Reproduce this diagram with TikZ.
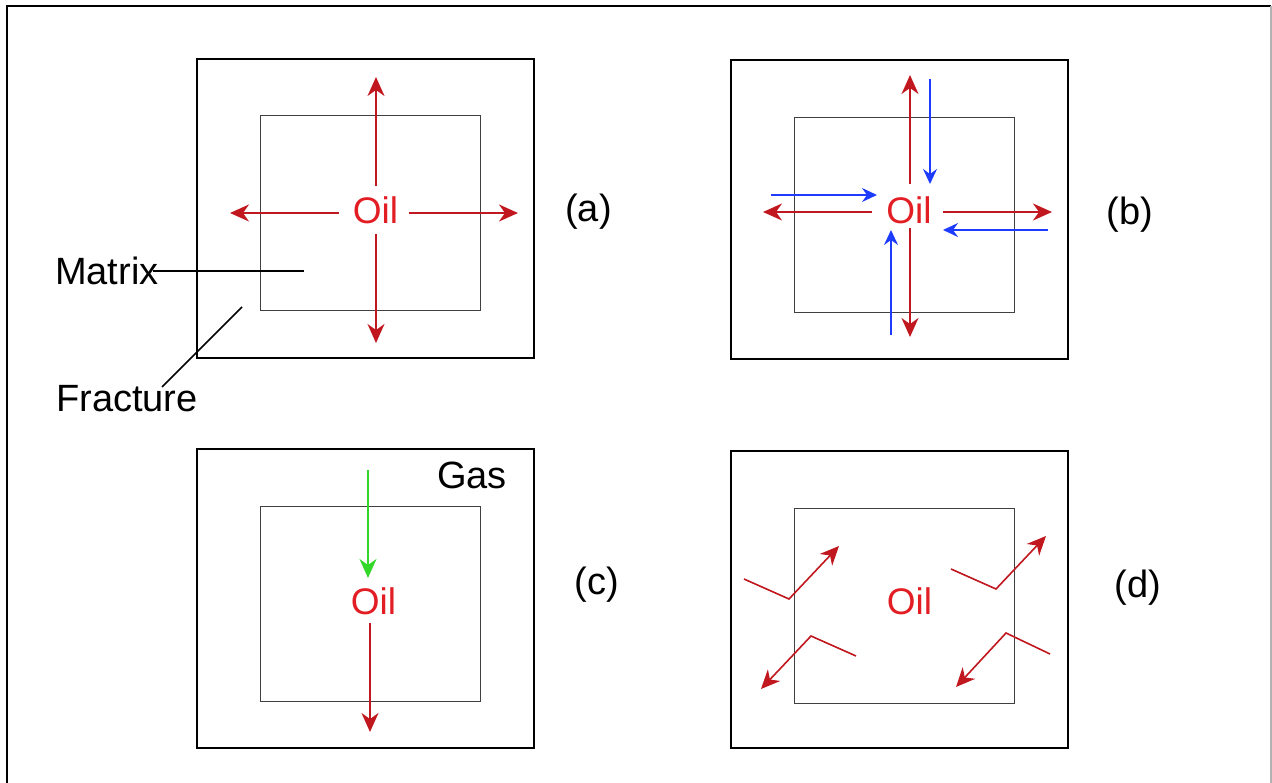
\documentclass[tikz,border=0pt]{standalone}
\usepackage{fontspec}
\setmainfont{Liberation Sans}
\usetikzlibrary{arrows.meta}
\definecolor{arrowred}{RGB}{192,24,30}
\definecolor{oilred}{RGB}{226,30,36}
\definecolor{flowblue}{RGB}{30,60,255}
\definecolor{gasgreen}{RGB}{50,215,40}
\tikzset{
  outerbox/.style={draw=black,line width=2pt},
  innerbox/.style={draw=black!75,line width=1pt},
  redarr/.style={draw=arrowred,line width=1.6pt,-{Stealth[length=19pt,width=17pt,inset=6pt]}},
  bluearr/.style={draw=flowblue,line width=1.6pt,-{Stealth[length=15pt,width=14pt,inset=5pt]}},
  greenarr/.style={draw=gasgreen,line width=1.6pt,-{Stealth[length=19pt,width=17pt,inset=6pt]}},
  oiltext/.style={text=oilred,font=\fontsize{37}{41}\selectfont,inner sep=0pt,anchor=base},
  blacktext/.style={text=black,font=\fontsize{38}{42}\selectfont,inner sep=0pt},
  leader/.style={draw=black,line width=1.5pt}
}
\begin{document}
\begin{tikzpicture}[x=1pt,y=-1pt]
\useasboundingbox (0,0) rectangle (1272,783);
% page frame
\draw[line width=1.5pt] (7,783) -- (7,6) -- (1271,6);
\draw[line width=1.5pt,black!30] (1271,6) -- (1271,783);

% ---------- panel (a)
\draw[outerbox] (197,59) rectangle (534,358);
\draw[innerbox] (260,116) rectangle (480,311);
\node[oiltext] (oilA) at (375.5,224) {Oil};
\coordinate (aUs) at (376,186); \coordinate (aUe) at (376,77);
\coordinate (aDs) at (376,234); \coordinate (aDe) at (376,343);
\coordinate (aLs) at (339,213); \coordinate (aLe) at (230,213);
\coordinate (aRs) at (409,213); \coordinate (aRe) at (518,213);
\draw[redarr] (aUs) -- (aUe);
\draw[redarr] (aDs) -- (aDe);
\draw[redarr] (aLs) -- (aLe);
\draw[redarr] (aRs) -- (aRe);
\node[blacktext,anchor=base] (labA) at (588.5,222) {(a)};
\node[blacktext,anchor=base west] (matrix) at (55,285) {Matrix};
\node[blacktext,anchor=base west] (fracture) at (56,412) {Fracture};
\coordinate (mEnd) at (304,271); \coordinate (mStart) at (153,271);
\coordinate (fEnd) at (242,307); \coordinate (fStart) at (162,387);
\draw[leader] (mStart) -- (mEnd);
\draw[leader] (fStart) -- (fEnd);

% ---------- panel (b)
\draw[outerbox] (731,60) rectangle (1068,359);
\draw[innerbox] (794,118) rectangle (1014,313);
\node[oiltext] (oilB) at (909,224) {Oil};
\coordinate (bUs) at (910,184); \coordinate (bUe) at (910,75);
\coordinate (bDs) at (910,228); \coordinate (bDe) at (910,337);
\coordinate (bLs) at (872,212); \coordinate (bLe) at (763,212);
\coordinate (bRs) at (943,212); \coordinate (bRe) at (1052,212);
\draw[redarr] (bUs) -- (bUe);
\draw[redarr] (bDs) -- (bDe);
\draw[redarr] (bLs) -- (bLe);
\draw[redarr] (bRs) -- (bRe);
\coordinate (bTs) at (930,79);  \coordinate (bTe) at (930,184);
\coordinate (bWs) at (771,195); \coordinate (bWe) at (877,195);
\coordinate (bEs) at (1048,230); \coordinate (bEe) at (943,230);
\coordinate (bBs) at (891,335); \coordinate (bBe) at (891,230);
\draw[bluearr] (bTs) -- (bTe);
\draw[bluearr] (bWs) -- (bWe);
\draw[bluearr] (bEs) -- (bEe);
\draw[bluearr] (bBs) -- (bBe);
\node[blacktext,anchor=base] (labB) at (1130,225) {(b)};

% ---------- panel (c)
\draw[outerbox] (197,449) rectangle (534,748);
\draw[innerbox] (260,506) rectangle (480,701);
\node[oiltext] (oilC) at (373.5,614) {Oil};
\node[blacktext,anchor=base west] (gas) at (437,488) {Gas};
\coordinate (cGs) at (368,470); \coordinate (cGe) at (368,578);
\coordinate (cDs) at (370,623); \coordinate (cDe) at (370,732);
\draw[greenarr] (cGs) -- (cGe);
\draw[redarr] (cDs) -- (cDe);
\node[blacktext,anchor=base] (labC) at (597,594) {(c)};

% ---------- panel (d)
\draw[outerbox] (731,451) rectangle (1068,748);
\draw[innerbox] (794,508) rectangle (1014,703);
\node[oiltext] (oilD) at (909.5,614) {Oil};
\coordinate (d1a) at (744,579); \coordinate (d1b) at (789,599); \coordinate (d1c) at (839,546);
\coordinate (d2a) at (951,569); \coordinate (d2b) at (996,589); \coordinate (d2c) at (1046,536);
\coordinate (d3a) at (856,656); \coordinate (d3b) at (811,636); \coordinate (d3c) at (761,689);
\coordinate (d4a) at (1050,654); \coordinate (d4b) at (1006,633); \coordinate (d4c) at (956,687);
\draw[redarr] (d1a) -- (d1b) -- (d1c);
\draw[redarr] (d2a) -- (d2b) -- (d2c);
\draw[redarr] (d3a) -- (d3b) -- (d3c);
\draw[redarr] (d4a) -- (d4b) -- (d4c);
\node[blacktext,anchor=base] (labD) at (1138,597) {(d)};
\end{tikzpicture}
\end{document}
